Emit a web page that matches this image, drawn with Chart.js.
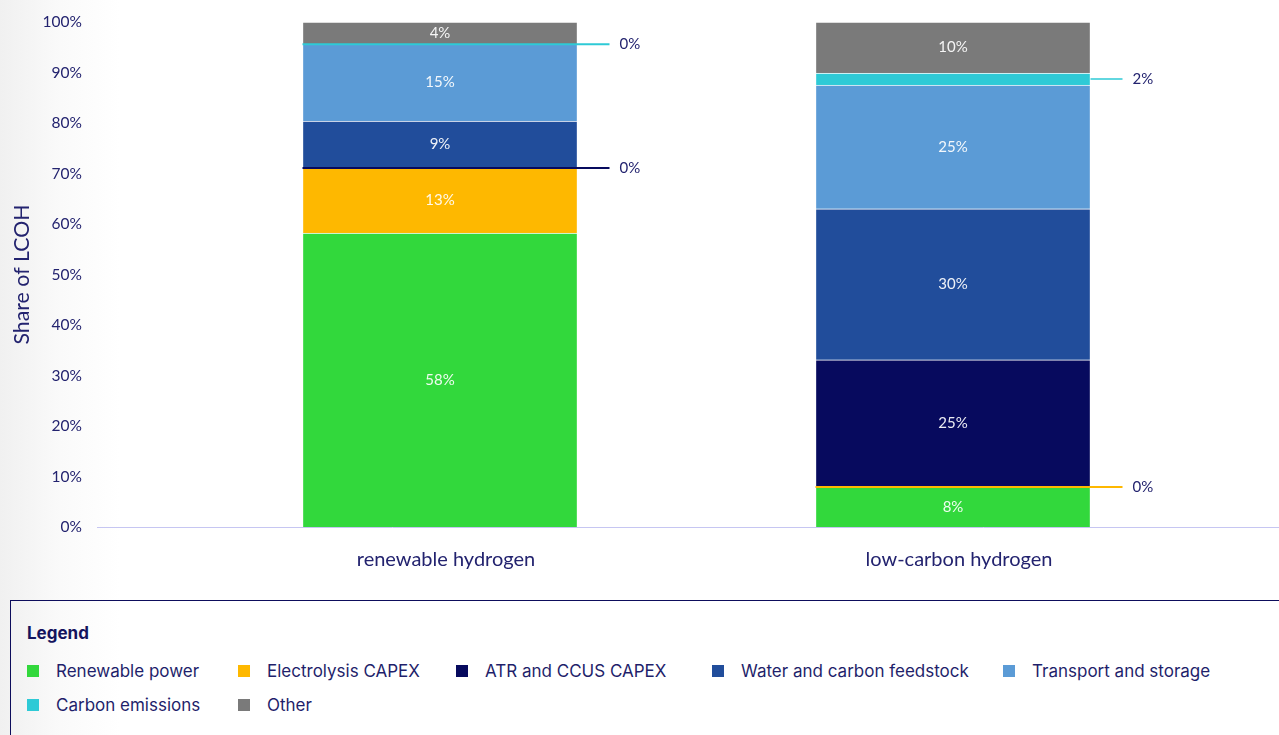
<!DOCTYPE html>
<html>
<head>
<meta charset="utf-8">
<script src="https://cdn.jsdelivr.net/npm/chart.js@4.4.1/dist/chart.umd.min.js"></script>
<style>
  html, body { margin: 0; padding: 0; }
  body {
    width: 1279px; height: 735px; overflow: hidden; position: relative;
    background: linear-gradient(to right, #f0f0f0 0px, #fafafa 60px, #ffffff 120px);
    font-family: Inter, "Noto Sans", sans-serif;
  }
  #wrap { position: absolute; left: 0; top: 0; width: 1279px; height: 590px; }
  #chart { width: 1279px; height: 590px; }
  #legend {
    position: absolute; left: 10px; top: 600px; width: 1300px; height: 160px;
    border: 1.5px solid #0d0d5c; box-sizing: border-box; color: #1f1f6b;
  }
  #legend .title { position: absolute; left: 16px; top: 22px; font-size: 17px; font-weight: 700; color: #14145e; }
  #legend .items {
    position: absolute; left: 16px; top: 59px;
    display: grid; grid-template-columns: 211px 218px 256px 291px auto; row-gap: 12px;
  }
  #legend .item { display: flex; align-items: center; height: 22px; font-size: 17px; white-space: nowrap; }
  #legend .sw { width: 12px; height: 12px; margin-right: 17px; flex: none; }
</style>
</head>
<body>
<div id="wrap"><canvas id="chart" width="1279" height="590"></canvas></div>
<div id="legend"><div class="title">Legend</div><div class="items" id="items"></div></div>
<script>
// Cost breakdown of the levelised cost of hydrogen (share, %)
const categories = ['renewable hydrogen', 'low-carbon hydrogen'];

const renewablePower    = [58.2, 7.9];
const electrolysisCapex = [12.9, 0];
const atrCcusCapex      = [0, 25.2];
const waterCarbonFeed   = [9.3, 29.9];
const transportStorage  = [15.2, 24.5];
const carbonEmissions   = [0, 2.4];
const other             = [4.4, 10.1];

const yTicks = [0, 10, 20, 30, 40, 50, 60, 70, 80, 90, 100];

const seriesNames = ['Renewable power', 'Electrolysis CAPEX', 'ATR and CCUS CAPEX',
  'Water and carbon feedstock', 'Transport and storage', 'Carbon emissions', 'Other'];
const seriesValues = [renewablePower, electrolysisCapex, atrCcusCapex, waterCarbonFeed,
  transportStorage, carbonEmissions, other];
const seriesColors = ['#32d83c', '#feb800', '#070a5e', '#214d9b', '#5b9bd6', '#2ecad6', '#7a7a7a'];

const navy = '#23236f';
const labelFont = 'Lato, "Open Sans", sans-serif';

// Value labels: inside the segment when it is tall enough, otherwise a leader line to the right
const segmentLabels = {
  id: 'segmentLabels',
  afterDatasetsDraw(chart) {
    const ctx = chart.ctx;
    ctx.save();
    chart.data.datasets.forEach((ds, i) => {
      const meta = chart.getDatasetMeta(i);
      meta.data.forEach((bar, j) => {
        const v = ds.data[j];
        const cy = (bar.y + bar.base) / 2;
        const half = bar.width / 2;
        const txt = Math.round(v) + '%';
        ctx.font = '15px ' + labelFont;
        ctx.textBaseline = 'middle';
        if (v >= 3) {
          ctx.fillStyle = 'rgba(255,255,255,0.92)';
          ctx.textAlign = 'center';
          ctx.fillText(txt, bar.x, cy);
        } else {
          ctx.strokeStyle = ds.backgroundColor;
          ctx.lineWidth = v === 0 ? 2 : 1.5;
          ctx.beginPath();
          ctx.moveTo(v === 0 ? bar.x - half : bar.x + half, cy);
          ctx.lineTo(bar.x + half + 32, cy);
          ctx.stroke();
          ctx.fillStyle = navy;
          ctx.textAlign = 'left';
          ctx.fillText(txt, bar.x + half + 42, cy);
        }
      });
    });
    ctx.restore();
  }
};

// Baseline running across the full width under the bars
const baseline = {
  id: 'baseline',
  beforeDatasetsDraw(chart) {
    const ctx = chart.ctx;
    const y = Math.round(chart.scales.y.getPixelForValue(0));
    ctx.save();
    ctx.strokeStyle = '#c6c6f2';
    ctx.lineWidth = 1;
    ctx.beginPath();
    ctx.moveTo(97, y + 0.5);
    ctx.lineTo(chart.width, y + 0.5);
    ctx.stroke();
    ctx.restore();
  }
};

new Chart(document.getElementById('chart'), {
  type: 'bar',
  data: {
    labels: categories,
    datasets: seriesNames.map((name, i) => ({
      label: name,
      data: seriesValues[i],
      backgroundColor: seriesColors[i],
      borderColor: 'rgba(255,255,255,0.35)',
      borderWidth: 1,
      barThickness: 275
    }))
  },
  options: {
    responsive: false,
    maintainAspectRatio: false,
    animation: false,
    layout: { padding: { top: 22, right: 69.5, bottom: 19, left: 0 } },
    plugins: { legend: { display: false }, tooltip: { enabled: false } },
    scales: {
      x: {
        stacked: true,
        afterFit(scale) { scale.height = 44; },
        grid: { display: false, drawTicks: false },
        border: { display: false },
        ticks: {
          color: navy, padding: 21, labelOffset: 6,
          font: { family: labelFont, size: 20 }
        }
      },
      y: {
        stacked: true,
        min: 0, max: 100,
        afterBuildTicks(scale) { scale.ticks = yTicks.map(v => ({ value: v })); },
        afterFit(scale) {
          scale.width = 183.5;
          scale.paddingTop = 0;
          scale.paddingBottom = 0;
        },
        grid: { display: false, drawTicks: false },
        border: { display: false },
        ticks: {
          color: navy, padding: 101.5,
          font: { family: labelFont, size: 15.5 },
          callback: v => v + '%'
        },
        title: {
          display: true, text: 'Share of LCOH', color: navy,
          padding: { top: 9, bottom: 0 },
          font: { family: labelFont, size: 21.3 }
        }
      }
    }
  },
  plugins: [baseline, segmentLabels]
});

// Legend built from the same series names and colours
const items = document.getElementById('items');
seriesNames.forEach((name, i) => {
  const el = document.createElement('div');
  el.className = 'item';
  el.innerHTML = '<span class="sw" style="background:' + seriesColors[i] + '"></span><span>' + name + '</span>';
  items.appendChild(el);
});
</script>
</body>
</html>
